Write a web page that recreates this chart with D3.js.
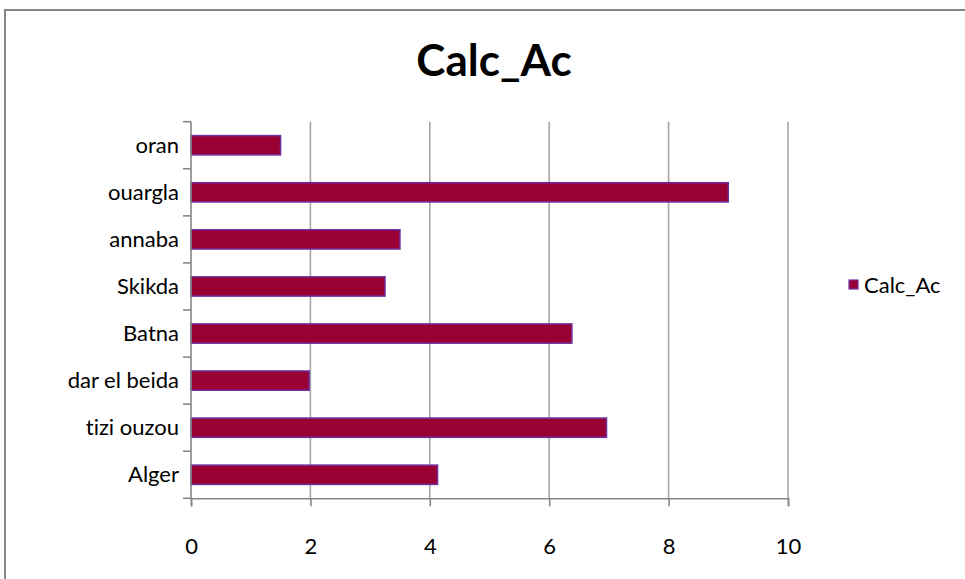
<!DOCTYPE html>
<html>
<head>
<meta charset="utf-8">
<script src="https://cdn.jsdelivr.net/npm/d3@7"></script>
<style>
  html, body { margin: 0; padding: 0; background: #fff; }
  svg { display: block; }
  text { font-family: Lato, "Open Sans", sans-serif; fill: #000; font-variant-ligatures: none; }
</style>
</head>
<body>
<svg id="chart" width="965" height="579"></svg>
<script>
// Series data (top to bottom as listed on the axis)
const categories = ["oran", "ouargla", "annaba", "Skikda", "Batna", "dar el beida", "tizi ouzou", "Alger"];
const values = [1.5, 9.0, 3.5, 3.25, 6.38, 1.98, 6.96, 4.13];
const xTicks = [0, 2, 4, 6, 8, 10];
const seriesName = "Calc_Ac";
const chartTitle = "Calc_Ac";

const svg = d3.select("#chart");

// Outer chart frame
svg.append("rect")
  .attr("x", 5).attr("y", 10)
  .attr("width", 975).attr("height", 590)
  .attr("fill", "#fff")
  .attr("stroke", "#868686")
  .attr("stroke-width", 2);

const plot = { left: 191, right: 788, top: 121.7, bottom: 498.3 };

const x = d3.scaleLinear().domain([0, 10]).range([plot.left, plot.right]);
const y = d3.scaleBand().domain(categories).range([plot.top, plot.bottom])
  .paddingInner(0.59).paddingOuter(0.295);

// Vertical gridlines
svg.append("g")
  .selectAll("line")
  .data(xTicks.filter(d => d > 0))
  .join("line")
  .attr("x1", d => x(d)).attr("x2", d => x(d))
  .attr("y1", plot.top).attr("y2", plot.bottom)
  .attr("stroke", "#a6a6a6")
  .attr("stroke-width", 1.6);

// Bars
svg.append("g")
  .selectAll("rect")
  .data(categories.map((c, i) => ({ c, v: values[i] })))
  .join("rect")
  .attr("x", x(0))
  .attr("y", d => y(d.c))
  .attr("width", d => x(d.v) - x(0))
  .attr("height", y.bandwidth())
  .attr("fill", "#990033")
  .attr("stroke", "#7030a0")
  .attr("stroke-width", 1.5);

// X axis
const xAxis = d3.axisBottom(x).tickValues(xTicks).tickSize(8).tickPadding(32).tickFormat(d3.format("d"));
const gx = svg.append("g").attr("transform", `translate(0,${plot.bottom})`).call(xAxis);
gx.select(".domain").attr("stroke", "#868686").attr("stroke-width", 1.6);
gx.selectAll(".tick line").attr("stroke", "#868686").attr("stroke-width", 1.6);
gx.selectAll(".tick text").attr("font-size", 22).attr("font-family", "Lato, sans-serif").attr("fill", "#000");

// Y axis: line plus ticks at the category boundaries
const yLine = svg.append("g");
yLine.append("line")
  .attr("x1", plot.left).attr("x2", plot.left)
  .attr("y1", plot.top).attr("y2", plot.bottom)
  .attr("stroke", "#868686").attr("stroke-width", 1.6);
const boundaries = d3.range(categories.length + 1).map(i => plot.top + i * (plot.bottom - plot.top) / categories.length);
yLine.selectAll("line.tk")
  .data(boundaries)
  .join("line")
  .attr("class", "tk")
  .attr("x1", plot.left - 8).attr("x2", plot.left)
  .attr("y1", d => d).attr("y2", d => d)
  .attr("stroke", "#868686").attr("stroke-width", 1.6);

svg.append("g")
  .selectAll("text")
  .data(categories)
  .join("text")
  .attr("x", 179)
  .attr("y", d => y(d) + y.bandwidth() / 2)
  .attr("dy", "0.35em")
  .attr("text-anchor", "end")
  .attr("font-size", 22)
  .text(d => d);

// Title
svg.append("text")
  .attr("x", 494).attr("y", 76)
  .attr("text-anchor", "middle")
  .attr("font-size", 44)
  .attr("font-weight", "bold")
  .text(chartTitle);

// Legend
svg.append("rect")
  .attr("x", 849).attr("y", 280)
  .attr("width", 9).attr("height", 9)
  .attr("fill", "#990033")
  .attr("stroke", "#7030a0")
  .attr("stroke-width", 1.2);
svg.append("text")
  .attr("x", 864).attr("y", 285)
  .attr("dy", "0.35em")
  .attr("font-size", 22)
  .text(seriesName);
</script>
</body>
</html>
